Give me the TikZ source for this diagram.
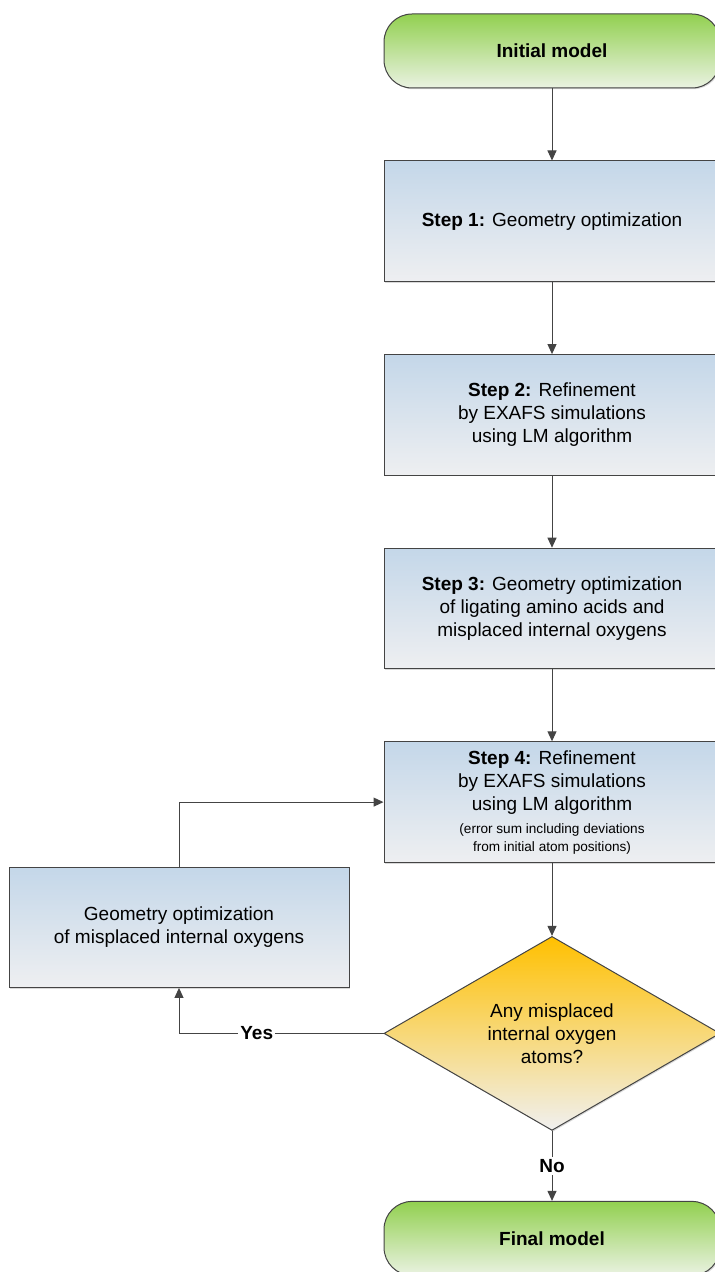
\documentclass[tikz,border=0pt]{standalone}
\usepackage{fontspec}
\setmainfont{Liberation Sans}
\usetikzlibrary{arrows.meta,positioning,shapes.geometric,shadows}

\definecolor{boxtop}{RGB}{196,215,233}
\definecolor{boxbot}{RGB}{238,239,241}
\definecolor{termtop}{RGB}{146,208,80}
\definecolor{termbot}{RGB}{234,242,226}
\definecolor{dectop}{RGB}{255,192,0}
\definecolor{decbot}{RGB}{240,240,240}
\definecolor{linegray}{RGB}{68,68,68}

\tikzset{
  basebox/.style={draw=linegray, line width=0.5pt, align=center,
    drop shadow={shadow xshift=0.6pt, shadow yshift=-0.6pt, opacity=0.3},
    font=\fontsize{9.5}{11.5}\selectfont},
  stepbox/.style={basebox, rectangle, top color=boxtop, bottom color=boxbot,
    minimum width=168pt, minimum height=60.3pt},
  termbox/.style={basebox, rectangle, rounded corners=14pt, top color=termtop, bottom color=termbot,
    minimum width=168pt, minimum height=37pt, font=\fontsize{9.5}{11.5}\selectfont\bfseries},
  decbox/.style={basebox, diamond, aspect=1.73, inner sep=1pt, top color=dectop,
    bottom color=decbot, minimum width=168pt, minimum height=97pt}
}

\begin{document}
\begin{tikzpicture}[>={Triangle[length=5pt,width=4.5pt]},node distance=36pt,
  flow/.style={->,draw=linegray,line width=0.5pt},
  answer/.style={fill=white,inner sep=1pt,font=\fontsize{9.5}{11.5}\selectfont\bfseries}]
  \useasboundingbox (0,0) rectangle (357pt,-636pt);

  \node[termbox] (init)  at (276pt,-25.5pt)  {Initial model};
  \node[stepbox] (s1)    [below=of init]     {\textbf{Step 1:} Geometry optimization};
  \node[stepbox] (s2)    [below=of s1]       {\textbf{Step 2:} Refinement\\by EXAFS simulations\\using LM algorithm};
  \node[stepbox] (s3)    [below=of s2]       {\textbf{Step 3:} Geometry optimization\\of ligating amino acids and\\misplaced internal oxygens};
  \node[stepbox] (s4)    [below=of s3]       {\textbf{Step 4:} Refinement\\by EXAFS simulations\\using LM algorithm\\
    {\fontsize{6.8}{9}\selectfont (error sum including deviations}\\[-2.5pt]
    {\fontsize{6.8}{9}\selectfont from initial atom positions)}};
  \node[decbox]  (dec)   [below=36.5pt of s4]  {Any misplaced\\internal oxygen\\atoms?};
  \node[termbox] (final) [below=35pt of dec] {Final model};
  \node[stepbox, minimum width=170pt, minimum height=60pt] (geo)
    [below left=2pt and 17pt of s4.south west] {Geometry optimization\\of misplaced internal oxygens};

  \path (init) edge [flow] (s1)
        (s1)   edge [flow] (s2)
        (s2)   edge [flow] (s3)
        (s3)   edge [flow] (s4)
        (s4)   edge [flow] (dec)
        (dec)  edge [flow] node[answer] {No} (final);
  \draw[flow] (geo.north) |- (s4.west);
  \draw[flow] (dec.west) -| node[answer,pos=0.31] {Yes} (geo.south);
\end{tikzpicture}
\end{document}
